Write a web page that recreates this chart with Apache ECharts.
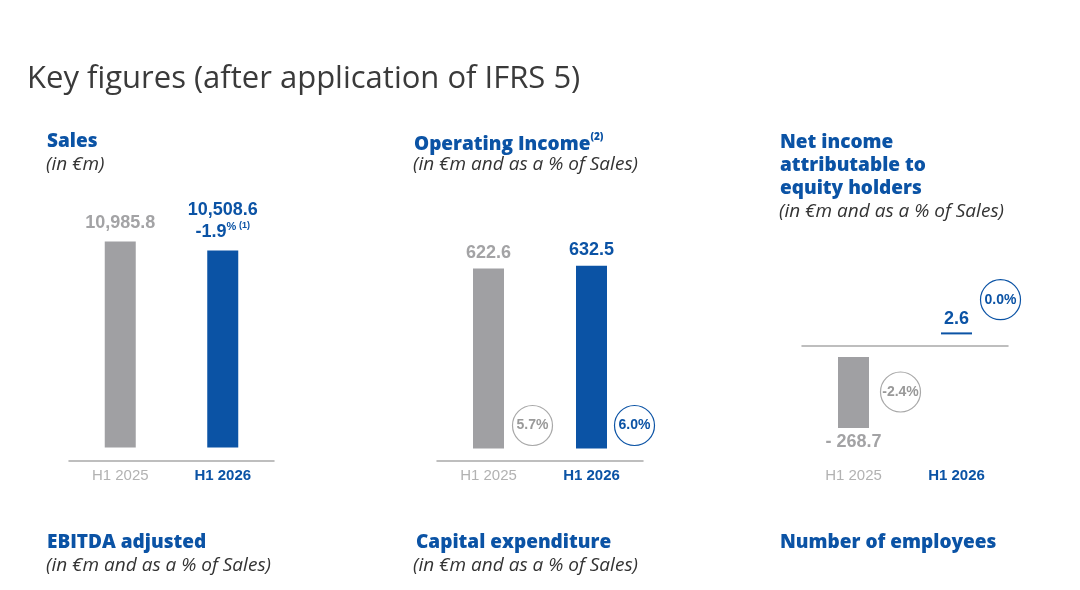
<!DOCTYPE html>
<html>
<head>
<meta charset="utf-8">
<script src="https://cdn.jsdelivr.net/npm/echarts@6/dist/echarts.min.js"></script>
<style>html,body{margin:0;padding:0;background:#fff}#c{width:1080px;height:590px}</style>
</head>
<body>
<div id="c"></div>
<script>
const categories = ['H1 2025', 'H1 2026'];
const salesValues = [10985.8, 10508.6];
const salesChange = [null, -1.9];
const opIncomeValues = [622.6, 632.5];
const opMarginPct = [5.7, 6.0];
const netIncomeValues = [-268.7, 2.6];
const netMarginPct = [-2.4, 0.0];

const GREY = '#a0a0a3', GREY_TXT = '#a3a3a5', AXIS_TXT = '#b2b2b2', BLUE = '#0b53a5', DARK = '#333333';
const colorFor = i => i === 0 ? GREY : BLUE;
const txtFor = i => i === 0 ? GREY_TXT : BLUE;
const fmt = v => Math.abs(v).toLocaleString('en-US', {minimumFractionDigits: 1, maximumFractionDigits: 1});

const chart = echarts.init(document.getElementById('c'));

const axisLabelBase = {
  margin: 8,
  formatter: (v, i) => i === 0 ? '{o|' + v + '}' : '{n|' + v + '}',
  rich: {
    o: {fontFamily: 'Liberation Sans', fontSize: 15, color: AXIS_TXT},
    n: {fontFamily: 'Liberation Sans', fontSize: 15, fontWeight: 'bold', color: BLUE}
  }
};
function xAxisFor(grid, opts) {
  return Object.assign({
    type: 'category', gridIndex: grid, data: categories, position: 'bottom',
    axisTick: {show: false},
    axisLine: {onZero: false, lineStyle: {color: '#a9a9a9', width: 1.5}},
    axisLabel: axisLabelBase
  }, opts);
}
function yAxisFor(grid, min, max) {
  return {type: 'value', gridIndex: grid, min: min, max: max, show: false, splitLine: {show: false}};
}
const circleLabel = {
  show: true, position: 'inside',
  fontFamily: 'Liberation Sans Narrow, Liberation Sans', fontWeight: 'bold', fontSize: 14,
  formatter: p => p.value.toFixed(1) + '%'
};
function circle(cat, yv, pct, i, off) {
  return {
    coord: [cat, yv], value: pct, symbolOffset: off,
    itemStyle: {color: '#fff', borderColor: i === 0 ? '#a8a8a8' : BLUE, borderWidth: 1.2},
    label: {color: i === 0 ? '#999999' : BLUE}
  };
}
const valLabelFont = {fontFamily: 'Liberation Sans', fontWeight: 'bold', fontSize: 18};
const H_FONT = '800 19px "Open Sans"';
const S_FONT = 'italic 19px "Open Sans"';

const option = {
  animation: false,
  grid: [
    {left: 69, width: 205, top: 222.5, height: 225},
    {left: 437, width: 206, top: 217.3, height: 231.2},
    {left: 802, width: 206, top: 308, height: 26.4},
    {left: 802, width: 206, top: 357, height: 105.7}
  ],
  xAxis: [
    xAxisFor(0, {offset: 13}),
    xAxisFor(1, {offset: 12}),
    xAxisFor(2, {offset: 11.5, axisLabel: {show: false}}),
    xAxisFor(3, {axisLine: {show: false}, axisLabel: Object.assign({}, axisLabelBase, {margin: 6})})
  ],
  yAxis: [yAxisFor(0, 0, 12000), yAxisFor(1, 0, 800), yAxisFor(2, 0, 100), yAxisFor(3, -400, 0)],
  series: [
    {
      type: 'bar', xAxisIndex: 0, yAxisIndex: 0, barWidth: 31,
      data: salesValues.map((v, i) => ({value: v, itemStyle: {color: colorFor(i)}})),
      label: {
        show: true, position: 'top', distance: 7,
        formatter: p => {
          const i = p.dataIndex;
          if (salesChange[i] == null) return '{g|' + fmt(p.value) + '}';
          return '{b|' + fmt(p.value) + '}\n{c|' + salesChange[i].toFixed(1) + '}{p|%}{f| (1)}';
        },
        rich: {
          g: Object.assign({color: GREY_TXT, lineHeight: 22}, valLabelFont),
          b: Object.assign({color: BLUE, lineHeight: 22}, valLabelFont),
          c: Object.assign({color: BLUE, lineHeight: 22}, valLabelFont),
          p: {color: BLUE, fontFamily: 'Liberation Sans', fontWeight: 'bold', fontSize: 11, lineHeight: 14, verticalAlign: 'top'},
          f: {color: BLUE, fontFamily: 'Liberation Sans', fontWeight: 'bold', fontSize: 9, lineHeight: 12, verticalAlign: 'top'}
        }
      }
    },
    {
      type: 'bar', xAxisIndex: 1, yAxisIndex: 1, barWidth: 31,
      data: opIncomeValues.map((v, i) => ({value: v, itemStyle: {color: colorFor(i)}, label: {color: txtFor(i)}})),
      label: Object.assign({show: true, position: 'top', distance: 7, formatter: p => fmt(p.value)}, valLabelFont),
      markPoint: {
        symbol: 'circle', symbolSize: 40, label: circleLabel,
        data: opMarginPct.map((pct, i) => circle(categories[i], 0, pct, i, [i === 0 ? 44 : 43, -23]))
      }
    },
    {
      type: 'bar', xAxisIndex: 2, yAxisIndex: 2, barWidth: 31, barMinHeight: 2,
      data: netIncomeValues.map((v, i) => v >= 0 ? {value: v, itemStyle: {color: colorFor(i)}, label: {color: txtFor(i)}} : '-'),
      label: Object.assign({show: true, position: 'top', distance: 4, formatter: p => fmt(p.value)}, valLabelFont),
      markPoint: {
        symbol: 'circle', symbolSize: 40, label: circleLabel,
        data: netIncomeValues.map((v, i) => v >= 0 ? circle(categories[i], v, netMarginPct[i], i, [44, -34]) : null).filter(Boolean)
      }
    },
    {
      type: 'bar', xAxisIndex: 3, yAxisIndex: 3, barWidth: 31,
      data: netIncomeValues.map((v, i) => v < 0 ? {value: v, itemStyle: {color: colorFor(i)}, label: {color: txtFor(i)}} : '-'),
      label: Object.assign({show: true, position: 'bottom', distance: 5, formatter: p => '- ' + fmt(p.value)}, valLabelFont),
      markPoint: {
        symbol: 'circle', symbolSize: 40, label: circleLabel,
        data: netIncomeValues.map((v, i) => v < 0 ? circle(categories[i], v, netMarginPct[i], i, [47, -36]) : null).filter(Boolean)
      }
    }
  ],
  graphic: [
    {type: 'text', left: 27, top: 64, style: {text: 'Key figures (after application of IFRS 5)', font: '31px "Open Sans"', fill: '#3a3a3a'}},
    {type: 'text', left: 47, top: 132, style: {text: 'Sales', font: H_FONT, fill: BLUE}},
    {type: 'text', left: 46, top: 155, style: {text: '(in €m)', font: S_FONT, fill: DARK}},
    {type: 'text', left: 414, top: 132, style: {
      text: '{a|Operating Income}{s|(2)}',
      rich: {a: {font: H_FONT, fill: BLUE, lineHeight: 26}, s: {font: '800 10px "Open Sans"', fill: BLUE, lineHeight: 14, verticalAlign: 'top'}}
    }},
    {type: 'text', left: 413, top: 155, style: {text: '(in €m and as a % of Sales)', font: S_FONT, fill: DARK}},
    {type: 'text', left: 780, top: 131, style: {text: 'Net income\nattributable to\nequity holders', font: H_FONT, fill: BLUE, lineHeight: 23}},
    {type: 'text', left: 779, top: 202, style: {text: '(in €m and as a % of Sales)', font: S_FONT, fill: DARK}},
    {type: 'text', left: 47, top: 533, style: {text: 'EBITDA adjusted', font: H_FONT, fill: BLUE}},
    {type: 'text', left: 46, top: 556, style: {text: '(in €m and as a % of Sales)', font: S_FONT, fill: DARK}},
    {type: 'text', left: 416, top: 533, style: {text: 'Capital expenditure', font: H_FONT, fill: BLUE}},
    {type: 'text', left: 413, top: 556, style: {text: '(in €m and as a % of Sales)', font: S_FONT, fill: DARK}},
    {type: 'text', left: 780, top: 533, style: {text: 'Number of employees', font: H_FONT, fill: BLUE}}
  ]
};
chart.setOption(option);
</script>
</body>
</html>
